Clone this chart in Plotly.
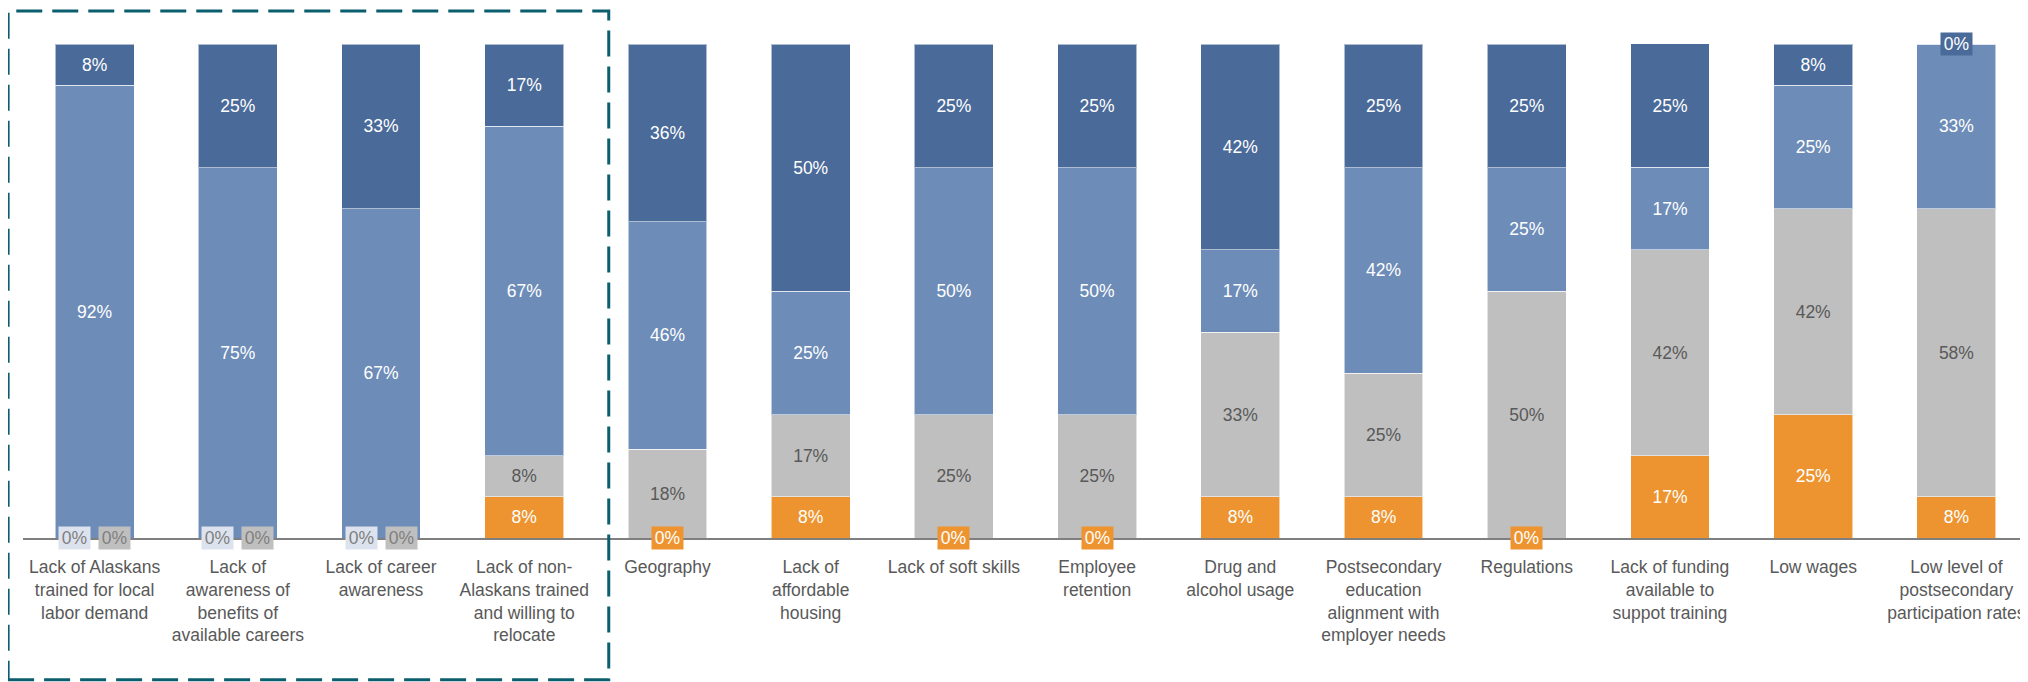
import plotly.graph_objects as go

categories = [
    "Lack of Alaskans<br>trained for local<br>labor demand",
    "Lack of<br>awareness of<br>benefits of<br>available careers",
    "Lack of career<br>awareness",
    "Lack of non-<br>Alaskans trained<br>and willing to<br>relocate",
    "Geography",
    "Lack of<br>affordable<br>housing",
    "Lack of soft skills",
    "Employee<br>retention",
    "Drug and<br>alcohol usage",
    "Postsecondary<br>education<br>alignment with<br>employer needs",
    "Regulations",
    "Lack of funding<br>available to<br>suppot training",
    "Low wages",
    "Low level of<br>postsecondary<br>participation rates",
]

# stacked from bottom to top
s_orange = [0, 0, 0, 8.33, 0, 8.33, 0, 0, 8.33, 8.33, 0, 16.67, 25, 8.33]
s_gray = [0, 0, 0, 8.33, 18, 16.67, 25, 25, 33.33, 25, 50, 41.67, 41.67, 58.33]
s_light = [91.67, 75, 66.67, 66.67, 46, 25, 50, 50, 16.67, 41.67, 25, 16.67, 25, 33.33]
s_dark = [8.33, 25, 33.33, 16.67, 36, 50, 25, 25, 41.67, 25, 25, 25, 8.33, 0]

series = [
    ("orange", s_orange, "#ED9430", "#FFFFFF"),
    ("gray", s_gray, "#BFBFBF", "#595959"),
    ("light", s_light, "#6D8CB8", "#FFFFFF"),
    ("dark", s_dark, "#4A6A99", "#FFFFFF"),
]

FONT = "Liberation Sans, Arial, sans-serif"
FS = 17.5
x_idx = list(range(len(categories)))
n = len(categories)

fig = go.Figure()
for name, vals, col, tcol in series:
    fig.add_trace(go.Bar(
        name=name, x=x_idx, y=vals,
        marker=dict(color=col, line=dict(color="rgba(255,255,255,0.55)", width=1)),
        text=[f"{round(v)}%" if v > 0 else "" for v in vals],
        textposition="inside", insidetextanchor="middle", textangle=0,
        constraintext="none",
        textfont=dict(family=FONT, size=FS, color=tcol),
        showlegend=False, hoverinfo="skip",
    ))

# zero-value labels drawn as boxed annotations at their stack position
annotations = []
box = dict(width=27, height=18, borderpad=2, showarrow=False, yanchor="middle",
           xref="x", yref="y", text="0%")
for i in x_idx:
    base = 0.0
    zeros = []
    for name, vals, col, tcol in series:
        if vals[i] == 0:
            zeros.append((name, base, col, tcol))
        base += vals[i]
    if len(zeros) == 2 and zeros[0][1] == zeros[1][1]:
        styles = [("#DDE3EE", "#7F7F7F", -20), ("#BFBFBF", "#7F7F7F", 20)]
        for (name, b, col, tcol), (bg, fc, sh) in zip(zeros, styles):
            annotations.append(dict(box, x=i, y=b, bgcolor=bg, xshift=sh,
                                    font=dict(family=FONT, size=FS, color=fc)))
    else:
        for name, b, col, tcol in zeros:
            fc = "#FFFFFF" if name != "gray" else "#595959"
            annotations.append(dict(box, x=i, y=b, bgcolor=col,
                                    font=dict(family=FONT, size=FS, color=fc)))

# dashed frame around the first four categories (paper coordinates)
fx0 = (-0.604 + 0.5) / n
fx1 = (3.59 + 0.5) / n

fig.update_layout(
    barmode="stack",
    bargap=0.449,
    width=2020, height=674,
    margin=dict(l=15, r=0, t=36, b=144, autoexpand=False),
    paper_bgcolor="white", plot_bgcolor="white",
    font=dict(family=FONT, size=FS, color="#595959"),
    annotations=annotations,
    xaxis=dict(
        tickmode="array", tickvals=x_idx, ticktext=categories,
        range=[-0.5, n - 0.5], automargin=False,
        showline=True, linecolor="#7F7F7F", linewidth=2,
        showgrid=False, zeroline=False, ticks="", ticklabelstandoff=12,
        tickfont=dict(family=FONT, size=FS, color="#595959"),
    ),
    yaxis=dict(range=[0, 100], visible=False, showgrid=False, automargin=False),
    shapes=[dict(
        type="rect", xref="paper", yref="paper",
        x0=fx0, x1=fx1, y0=-0.287, y1=1.067,
        line=dict(color="#0B5E6E", width=3, dash="26px,10px"),
        fillcolor="rgba(0,0,0,0)", layer="above",
    )],
)

fig.write_html("out.html")
